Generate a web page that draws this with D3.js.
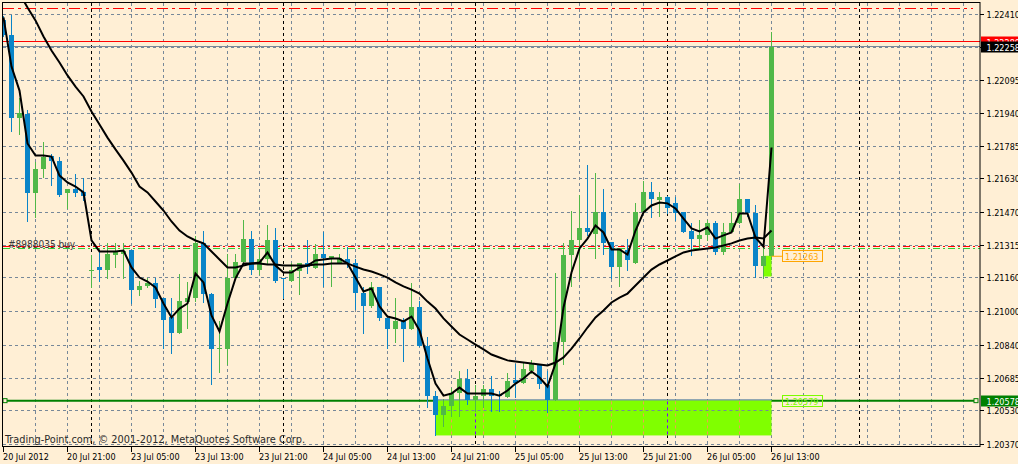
<!DOCTYPE html>
<html><head><meta charset="utf-8">
<script src="https://cdn.jsdelivr.net/npm/d3@7"></script>
<style>
html,body{margin:0;padding:0;background:#FFEFD5;overflow:hidden;}
svg{display:block;}
text{font-family:'DejaVu Sans Condensed','DejaVu Sans',sans-serif;font-stretch:condensed;}
</style></head><body>
<svg id="c" width="1018" height="464"></svg>
<script>
// ---- data (EURUSD H1, 20 Jul 13:00 .. 26 Jul 13:00) ----
const openP = [
1.22382,1.22315,1.21921,1.21940,1.21561,1.21675,1.21741,1.21717,1.21561,1.21580,
1.21570,1.21191,1.21210,1.21196,1.21267,1.21276,1.21295,1.21105,1.21120,1.21134,
1.21067,1.20973,1.20901,1.21044,1.21067,1.21328,1.21082,1.20821,1.20825,1.21158,
1.21238,1.21343,1.21200,1.21248,1.21338,1.21158,1.21148,1.21191,1.21229,1.21205,
1.21276,1.21252,1.21229,1.21252,1.21229,1.21091,1.21029,1.21115,1.20968,1.20920,
1.20958,1.20916,1.21020,1.20835,1.20602,1.20512,1.20555,1.20612,1.20683,1.20583,
1.20602,1.20631,1.20607,1.20593,1.20674,1.20664,1.20721,1.20754,1.20650,1.20579,
1.20854,1.21267,1.21338,1.21395,1.21371,1.21475,1.21333,1.21210,1.21295,1.21233,
1.21475,1.21570,1.21532,1.21542,1.21518,1.21471,1.21381,1.21347,1.21362,1.21423,
1.21281,1.21376,1.21423,1.21537,1.21466,1.21219,1.21263];
const highP = [
1.22405,1.22410,1.22016,1.21955,1.21708,1.21803,1.21746,1.21732,1.21580,1.21651,
1.21632,1.21267,1.21290,1.21324,1.21328,1.21328,1.21295,1.21148,1.21158,1.21158,
1.21067,1.21067,1.21181,1.21139,1.21357,1.21381,1.21091,1.20958,1.21276,1.21276,
1.21433,1.21385,1.21290,1.21409,1.21395,1.21162,1.21229,1.21233,1.21338,1.21319,
1.21376,1.21262,1.21276,1.21305,1.21252,1.21115,1.21139,1.21115,1.20982,1.21067,
1.20968,1.21134,1.21053,1.20878,1.20626,1.20588,1.20636,1.20721,1.20726,1.20650,
1.20650,1.20693,1.20626,1.20707,1.20754,1.20759,1.20773,1.20754,1.20721,1.21186,
1.21328,1.21480,1.21556,1.21698,1.21660,1.21580,1.21333,1.21300,1.21343,1.21518,
1.21622,1.21613,1.21566,1.21551,1.21542,1.21471,1.21423,1.21433,1.21433,1.21428,
1.21423,1.21471,1.21608,1.21537,1.21504,1.21352,1.22329];
const lowP = [
1.22306,1.21855,1.21845,1.21428,1.21447,1.21637,1.21599,1.21547,1.21490,1.21547,
1.21528,1.21115,1.21148,1.21162,1.21210,1.21162,1.21039,1.21077,1.21115,1.21020,
1.20830,1.20806,1.20897,1.20925,1.21053,1.21048,1.20659,1.20712,1.20750,1.21158,
1.21229,1.21181,1.21181,1.21229,1.21143,1.21067,1.21148,1.21086,1.21186,1.21205,
1.21120,1.21120,1.21229,1.21210,1.21015,1.20901,1.21020,1.20963,1.20830,1.20854,
1.20764,1.20916,1.20835,1.20546,1.20413,1.20460,1.20503,1.20503,1.20564,1.20531,
1.20546,1.20531,1.20531,1.20593,1.20593,1.20664,1.20707,1.20640,1.20522,1.20579,
1.20754,1.21124,1.21162,1.21362,1.21257,1.21276,1.21158,1.21124,1.21200,1.21233,
1.21475,1.21447,1.21456,1.21466,1.21433,1.21376,1.21267,1.21300,1.21338,1.21276,
1.21276,1.21376,1.21423,1.21456,1.21167,1.21162,1.21252];
const closeP = [
1.22315,1.21921,1.21945,1.21561,1.21675,1.21732,1.21713,1.21556,1.21580,1.21561,
1.21551,1.21200,1.21196,1.21276,1.21281,1.21286,1.21105,1.21120,1.21134,1.21058,
1.20963,1.20901,1.21053,1.21067,1.21324,1.21082,1.20821,1.20830,1.21158,1.21238,
1.21343,1.21200,1.21248,1.21338,1.21148,1.21153,1.21196,1.21229,1.21210,1.21276,
1.21257,1.21262,1.21257,1.21229,1.21091,1.21029,1.21115,1.20968,1.20920,1.20958,
1.20916,1.21020,1.20835,1.20602,1.20512,1.20555,1.20612,1.20683,1.20583,1.20602,
1.20631,1.20602,1.20598,1.20669,1.20664,1.20726,1.20750,1.20659,1.20579,1.20854,
1.21267,1.21338,1.21395,1.21376,1.21475,1.21328,1.21210,1.21300,1.21243,1.21475,
1.21570,1.21537,1.21542,1.21490,1.21466,1.21376,1.21347,1.21362,1.21423,1.21281,
1.21376,1.21423,1.21537,1.21466,1.21219,1.21263,1.22258];
const maFast = [
1.22396,1.22163,1.22049,1.21798,1.21741,1.21741,1.21736,1.21646,1.21613,1.21594,
1.21566,1.21338,1.21286,1.21286,1.21286,1.21290,1.21210,1.21162,1.21143,1.21115,
1.21039,1.20973,1.21015,1.21039,1.21181,1.21139,1.20982,1.20906,1.21039,1.21158,
1.21229,1.21229,1.21233,1.21281,1.21219,1.21186,1.21186,1.21210,1.21219,1.21243,
1.21248,1.21252,1.21252,1.21229,1.21162,1.21096,1.21110,1.21025,1.20977,1.20968,
1.20954,1.20977,1.20911,1.20778,1.20659,1.20602,1.20612,1.20640,1.20612,1.20612,
1.20612,1.20612,1.20602,1.20626,1.20659,1.20683,1.20716,1.20688,1.20645,1.20754,
1.21020,1.21186,1.21300,1.21347,1.21409,1.21376,1.21295,1.21295,1.21271,1.21385,
1.21471,1.21504,1.21518,1.21514,1.21490,1.21442,1.21395,1.21381,1.21400,1.21347,
1.21362,1.21376,1.21466,1.21466,1.21352,1.21309,1.21779];
const maSlow = [
1.22633,1.22571,1.22510,1.22443,1.22382,1.22306,1.22239,1.22182,1.22121,1.22068,
1.22021,1.21950,1.21888,1.21826,1.21770,1.21717,1.21660,1.21594,1.21566,1.21523,
1.21480,1.21428,1.21385,1.21357,1.21338,1.21324,1.21286,1.21248,1.21210,1.21210,
1.21219,1.21229,1.21229,1.21224,1.21224,1.21219,1.21219,1.21219,1.21219,1.21224,
1.21224,1.21229,1.21229,1.21229,1.21214,1.21200,1.21191,1.21177,1.21162,1.21139,
1.21120,1.21105,1.21086,1.21048,1.21015,1.20968,1.20930,1.20892,1.20868,1.20844,
1.20821,1.20797,1.20783,1.20769,1.20764,1.20759,1.20754,1.20750,1.20745,1.20759,
1.20783,1.20825,1.20873,1.20925,1.20973,1.21006,1.21044,1.21067,1.21086,1.21124,
1.21162,1.21200,1.21224,1.21243,1.21262,1.21281,1.21290,1.21295,1.21300,1.21305,
1.21314,1.21324,1.21338,1.21347,1.21352,1.21347,1.21385];

const priceTickLabels = ["1.22410","1.22255","1.22095","1.21940","1.21785","1.21630","1.21470",
  "1.21315","1.21160","1.21000","1.20840","1.20685","1.20530","1.20370"];
const timeTickLabels = ["20 Jul 2012","20 Jul 21:00","23 Jul 05:00","23 Jul 13:00","23 Jul 21:00",
  "24 Jul 05:00","24 Jul 13:00","24 Jul 21:00","25 Jul 05:00","25 Jul 13:00","25 Jul 21:00",
  "26 Jul 05:00","26 Jul 13:00"];
const timeTickBars = [0,8,16,24,32,40,48,56,64,72,80,88,96];
const daySeparatorBars = [11,35,59,83,107];
const gridBars = d3.range(4, 123, 4);

const tpLevel = 1.22438, askPrice = 1.22281, askLabel = "1.22280";
const bidPrice = 1.22258, bidLabel = "1.22258";
const orderLevelRed = 1.21311, orderLevelGreen = 1.21298, orderText = "#8988035 buy";
const hLinePrice = 1.20578, hLineLabel = "1.20578";
const zoneBig = {from:54, to:96, top:1.20579, bottom:1.20413, label:"1.20579"};
const zoneSmall = {from:95, to:96, top:1.21263, bottom:1.21167, label:"1.21263"};
const copyright = "Trading-Point.com, © 2001-2012, MetaQuotes Software Corp.";

// ---- scales ----
const L = 3, R = 980, T = 3, B = 446;
const x = d3.scaleLinear().domain([0, 1]).range([3.5, 11.5]);
const y = d3.scaleLinear().domain([1.22410, 1.20370]).range([14.5, 444.5]);
const cy = v => Math.floor(y(v)) + 0.5;
const cx = k => Math.floor(x(k)) + 0.5;

const svg = d3.select("#c");
svg.append("rect").attr("width",1018).attr("height",464).attr("fill","#FFEFD5");
svg.append("defs").append("clipPath").attr("id","plot")
  .append("rect").attr("x",L).attr("y",T).attr("width",R-L).attr("height",B-T);
const g = svg.append("g").attr("clip-path","url(#plot)");

const tickVals = priceTickLabels.map(Number);
// horizontal grid
g.selectAll(".hg").data(tickVals).join("line")
  .attr("x1",L).attr("x2",R).attr("y1",cy).attr("y2",cy)
  .attr("stroke","#778899").attr("stroke-dasharray","3,3");
// vertical grid
g.selectAll(".vg").data(gridBars).join("line")
  .attr("x1",cx).attr("x2",cx).attr("y1",T).attr("y2",B)
  .attr("stroke","#778899").attr("stroke-dasharray","3,3");
// day separators
g.selectAll(".ds").data(daySeparatorBars).join("line")
  .attr("x1",cx).attr("x2",cx).attr("y1",T).attr("y2",B)
  .attr("stroke","#000").attr("stroke-dasharray","3,3");

// level lines
g.append("line").attr("x1",L).attr("x2",973).attr("y1",cy(tpLevel)).attr("y2",cy(tpLevel))
  .attr("stroke","#FF0000").attr("stroke-dasharray","11,4,3,4");
g.append("line").attr("x1",L).attr("x2",R).attr("y1",cy(orderLevelRed)).attr("y2",cy(orderLevelRed))
  .attr("stroke","#FF0000").attr("stroke-dasharray","7,3,2,3");
g.append("line").attr("x1",L).attr("x2",R).attr("y1",cy(orderLevelGreen)).attr("y2",cy(orderLevelGreen))
  .attr("stroke","#32CD32").attr("stroke-dasharray","7,3,2,3");
g.append("text").attr("x",8).attr("y",cy(orderLevelRed)+1).attr("font-size",10)
  .attr("fill","#3a3a3a").text(orderText);

// horizontal green line
const hy = y(hLinePrice);
g.append("line").attr("x1",L).attr("x2",977).attr("y1",hy).attr("y2",hy)
  .attr("stroke","#008000").attr("stroke-width",2);
[5, 976].forEach(px => g.append("rect").attr("x",px-2).attr("y",hy-2).attr("width",4).attr("height",4)
  .attr("fill","#FFEFD5").attr("stroke","#008000").attr("stroke-width",1));

// zones
[zoneBig, zoneSmall].forEach(z => {
  g.append("rect").attr("x",x(z.from)).attr("y",y(z.top)-0.5)
    .attr("width",x(z.to)-x(z.from)).attr("height",y(z.bottom)-y(z.top)+0.5)
    .attr("fill","#80FF00");
});
g.append("line").attr("x1",x(zoneBig.from)).attr("x2",x(zoneBig.to))
  .attr("y1",y(zoneBig.top)-0.5).attr("y2",y(zoneBig.top)-0.5).attr("stroke","#7080C8").attr("stroke-width",1);
// grid over zone (inverted look)
const zb = gridBars.filter(k => k > zoneBig.from && k < zoneBig.to);
g.selectAll(".zg").data(zb).join("line")
  .attr("x1",cx).attr("x2",cx).attr("y1",y(zoneBig.top)+1).attr("y2",y(zoneBig.bottom))
  .attr("stroke","#F0A050").attr("stroke-dasharray","3,3");
g.selectAll(".zd").data(daySeparatorBars.filter(k => k > zoneBig.from && k < zoneBig.to)).join("line")
  .attr("x1",cx).attr("x2",cx).attr("y1",y(zoneBig.top)+1).attr("y2",y(zoneBig.bottom))
  .attr("stroke","#8000FF").attr("stroke-dasharray","3,3");
g.selectAll(".zh").data(tickVals.filter(v => v < zoneBig.top && v > zoneBig.bottom)).join("line")
  .attr("x1",x(zoneBig.from)).attr("x2",x(zoneBig.to)).attr("y1",cy).attr("y2",cy)
  .attr("stroke","#778899").attr("stroke-dasharray","3,3");

// bid / ask
g.append("line").attr("x1",L).attr("x2",R).attr("y1",cy(askPrice)).attr("y2",cy(askPrice)).attr("stroke","#FF0000");
g.append("line").attr("x1",L).attr("x2",R).attr("y1",cy(bidPrice)).attr("y2",cy(bidPrice)).attr("stroke","#778899");

// candles
const bars = openP.map((o,i)=>({i, o, h:highP[i], l:lowP[i], c:closeP[i]}));
const col = d => d.c >= d.o ? "#50B848" : "#0A84C8";
const cg = g.append("g");
cg.selectAll(".wk").data(bars).join("line")
  .attr("x1",d=>cx(d.i)).attr("x2",d=>cx(d.i))
  .attr("y1",d=>Math.round(y(d.h))).attr("y2",d=>Math.round(y(d.l))+1)
  .attr("stroke",col);
cg.selectAll(".bd").data(bars).join("rect")
  .attr("x",d=>Math.floor(x(d.i))-2).attr("width",5)
  .attr("y",d=>Math.round(y(Math.max(d.o,d.c))))
  .attr("height",d=>Math.max(1, Math.round(y(Math.min(d.o,d.c)))-Math.round(y(Math.max(d.o,d.c)))))
  .attr("fill",col);

// moving averages
const line = d3.line().x((d,i)=>x(i)).y(d=>y(d));
g.append("path").attr("d",line(maSlow)).attr("fill","none").attr("stroke","#000").attr("stroke-width",2);
g.append("path").attr("d",line(maFast)).attr("fill","none").attr("stroke","#000").attr("stroke-width",2);

// zone price labels
g.append("line").attr("x1",x(96)).attr("x2",782).attr("y1",y(zoneSmall.top)).attr("y2",y(zoneSmall.top))
  .attr("stroke","#FFA500");
g.append("rect").attr("x",782.5).attr("y",Math.round(y(zoneSmall.top))-5.5).attr("width",40).attr("height",11)
  .attr("fill","none").attr("stroke","#FFA500");
g.append("text").attr("x",785).attr("y",Math.round(y(zoneSmall.top))+3.5).attr("font-size",9)
  .attr("fill","#FFA500").text(zoneSmall.label);
g.append("rect").attr("x",782.5).attr("y",Math.round(hy)-5.5).attr("width",40).attr("height",11)
  .attr("fill","none").attr("stroke","#7CFC00");
g.append("text").attr("x",785).attr("y",Math.round(hy)+3.5).attr("font-size",9)
  .attr("fill","#7CFC00").text(zoneBig.label);

// copyright
svg.append("text").attr("x",5).attr("y",443).attr("font-size",11).attr("fill","#2a2a2a")
  .attr("textLength",300).attr("lengthAdjust","spacingAndGlyphs").text(copyright);

// frame
svg.append("rect").attr("x",2.5).attr("y",2.5).attr("width",R-2.5).attr("height",B-2)
  .attr("fill","none").attr("stroke","#000");

// right price axis
const ya = svg.append("g");
ya.selectAll("line").data(tickVals).join("line")
  .attr("x1",R).attr("x2",R+4).attr("y1",cy).attr("y2",cy).attr("stroke","#000");
ya.selectAll("text").data(priceTickLabels).join("text")
  .attr("x",986.5).attr("y",d=>cy(+d)+3.5).attr("font-size",9).attr("fill","#000").text(d=>d);

function priceBox(p, label, bg){
  const yy = Math.round(y(p));
  svg.append("rect").attr("x",981).attr("y",yy-5.5).attr("width",37).attr("height",11).attr("fill",bg);
  svg.append("text").attr("x",986.5).attr("y",yy+3.5).attr("font-size",9).attr("fill","#fff").text(label);
}
priceBox(askPrice, askLabel, "#FF0000");
priceBox(bidPrice, bidLabel, "#000000");
priceBox(hLinePrice, hLineLabel, "#008000");

// bottom time axis
const xa = svg.append("g");
xa.selectAll("line").data(timeTickBars).join("line")
  .attr("x1",cx).attr("x2",cx).attr("y1",B+1).attr("y2",B+6).attr("stroke","#000");
xa.selectAll("text").data(timeTickLabels).join("text")
  .attr("x",(d,i)=>x(timeTickBars[i])-0.5).attr("y",460).attr("font-size",9).attr("fill","#000").text(d=>d);
</script>
</body></html>
